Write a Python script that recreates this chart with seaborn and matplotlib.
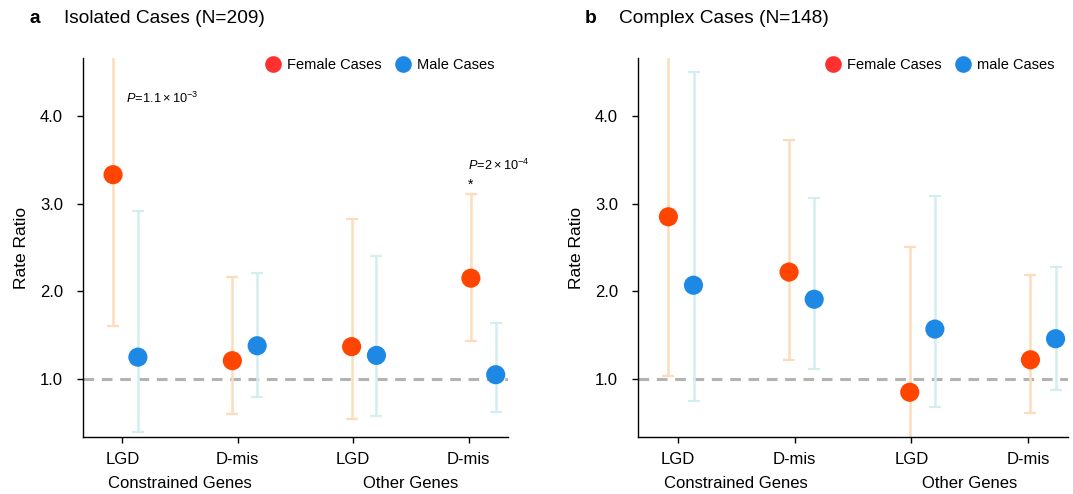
import pandas as pd
import matplotlib.pyplot as plt
import matplotlib.transforms as mtransforms
import seaborn as sns
import numpy as np

sns.set_style('ticks')
plt.rcParams['font.family'] = ['Liberation Sans', 'DejaVu Sans']
plt.rcParams['mathtext.fontset'] = 'custom'
plt.rcParams['mathtext.rm'] = 'Liberation Sans'
plt.rcParams['mathtext.it'] = 'Liberation Sans:italic'
for key in ['text.color', 'axes.labelcolor', 'xtick.color', 'ytick.color']:
    plt.rcParams[key] = 'black'

# categories
variant_labels = ['LGD', 'D-mis', 'LGD', 'D-mis']
gene_groups = ['Constrained Genes', 'Other Genes']
sexes = ['Female', 'Male']

# panel a: isolated cases (rate ratio, lower CI, upper CI)
iso_female_rr = [3.33, 1.21, 1.37, 2.15]
iso_female_lo = [1.60, 0.60, 0.55, 1.43]
iso_female_hi = [5.50, 2.16, 2.82, 3.11]
iso_male_rr = [1.25, 1.38, 1.27, 1.05]
iso_male_lo = [0.40, 0.80, 0.58, 0.63]
iso_male_hi = [2.92, 2.21, 2.40, 1.64]

# panel b: complex cases
cpx_female_rr = [2.85, 2.22, 0.85, 1.22]
cpx_female_lo = [1.04, 1.22, 0.20, 0.61]
cpx_female_hi = [5.50, 3.73, 2.51, 2.19]
cpx_male_rr = [2.07, 1.91, 1.57, 1.46]
cpx_male_lo = [0.75, 1.11, 0.68, 0.88]
cpx_male_hi = [4.50, 3.06, 3.09, 2.28]

point_colors = {'Female': '#FF4500', 'Male': '#1E88E5'}
bar_colors = {'Female': '#FDDCBC', 'Male': '#D3EEEE'}
legend_colors = {'Female': '#FF3030', 'Male': '#1E88E5'}
dodge = {'Female': -0.08, 'Male': 0.135}
step = 1.033


def make_df(f_rr, f_lo, f_hi, m_rr, m_lo, m_hi):
    rows = []
    for sex, rr, lo, hi in [('Female', f_rr, f_lo, f_hi), ('Male', m_rr, m_lo, m_hi)]:
        for i in range(len(variant_labels)):
            rows.append({'idx': i, 'sex': sex, 'rr': rr[i], 'lo': lo[i], 'hi': hi[i],
                         'x': i * step + dodge[sex]})
    return pd.DataFrame(rows)


def draw_panel(ax, df, letter, title, legend_names):
    ax.axhline(1.0, color='#B3B3B3', lw=2.2, ls=(0, (3.5, 2.5)), zorder=1)
    for sex in sexes:
        d = df[df['sex'] == sex]
        ax.errorbar(d['x'], d['rr'], yerr=[d['rr'] - d['lo'], d['hi'] - d['rr']],
                    fmt='none', ecolor=bar_colors[sex], elinewidth=1.8,
                    capsize=4.5, capthick=1.6, zorder=2)
    sns.scatterplot(data=df, x='x', y='rr', hue='sex', palette=point_colors,
                    s=190, linewidth=0, ax=ax, legend=False, zorder=3)

    ax.set_xlim(-0.34, 3.34)
    ax.set_ylim(0.34, 4.66)
    ax.set_yticks([1.0, 2.0, 3.0, 4.0])
    ax.set_yticklabels(['1.0', '2.0', '3.0', '4.0'])
    ax.set_xticks(range(4))
    ax.set_xticklabels(variant_labels)
    ax.tick_params(labelsize=12, length=4.5, width=1, color='black')
    ax.tick_params(axis='x', pad=6)
    ax.tick_params(axis='y', pad=10)
    for s in ['left', 'bottom']:
        ax.spines[s].set_color('black')
        ax.spines[s].set_linewidth(1)
    sns.despine(ax=ax)
    ax.set_xlabel('')
    ax.set_ylabel('Rate Ratio', fontsize=12.5, labelpad=8)

    trans = mtransforms.blended_transform_factory(ax.transData, ax.transAxes)
    for j, g in enumerate(gene_groups):
        ax.text(0.5 + 2 * j, -0.124, g, transform=trans, ha='center', va='center', fontsize=12)

    ax.text(-0.125, 1.105, letter, transform=ax.transAxes, fontsize=13.8,
            fontweight='bold', ha='left', va='center')
    ax.text(-0.045, 1.105, title, transform=ax.transAxes, fontsize=13.8,
            ha='left', va='center')

    handles = [plt.Line2D([], [], marker='o', ls='', ms=12, mec='none',
                          mfc=legend_colors[s]) for s in sexes]
    ax.legend(handles, legend_names, ncol=2, frameon=False, fontsize=10.5,
              loc='upper right', bbox_to_anchor=(1.0, 1.035),
              handlelength=1.0, handletextpad=0.45, columnspacing=1.0)


fig = plt.figure(figsize=(10.73, 4.94), dpi=100)
ax_a = fig.add_axes([0.0774, 0.1154, 0.396, 0.7672])
ax_b = fig.add_axes([0.5946, 0.1154, 0.4007, 0.7672])

df_iso = make_df(iso_female_rr, iso_female_lo, iso_female_hi, iso_male_rr, iso_male_lo, iso_male_hi)
df_cpx = make_df(cpx_female_rr, cpx_female_lo, cpx_female_hi, cpx_male_rr, cpx_male_lo, cpx_male_hi)

draw_panel(ax_a, df_iso, 'a', 'Isolated Cases (N=209)', ['Female Cases', 'Male Cases'])
draw_panel(ax_b, df_cpx, 'b', 'Complex Cases (N=148)', ['Female Cases', 'male Cases'])

ax_a.text(0.03, 4.20, r'$P\!=\!1.1\times10^{-3}$', fontsize=9.2, ha='left', va='center')
ax_a.text(2.99, 3.44, r'$P\!=\!2\times10^{-4}$', fontsize=9.2, ha='left', va='center')
ax_a.text(3 * step + dodge['Female'], 3.22, '*', fontsize=10, ha='center', va='center')

fig.savefig('out.png', dpi=100)
